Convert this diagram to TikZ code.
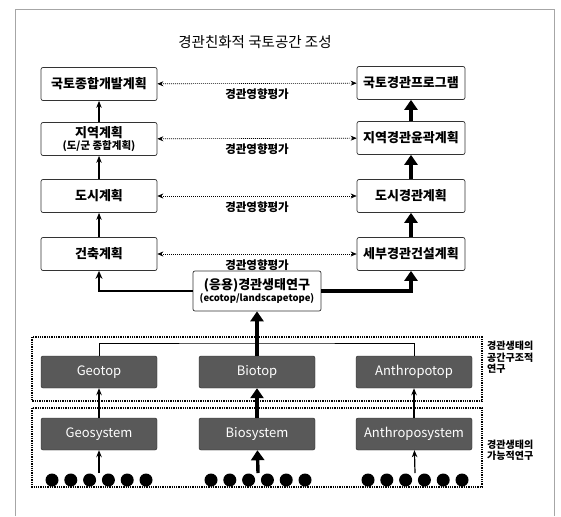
\documentclass[tikz,border=0pt]{standalone}
\usepackage{fontspec}
\setmainfont{Noto Sans CJK KR}
\usetikzlibrary{arrows.meta, positioning}

\newcommand{\fsz}[1]{\fontsize{#1}{#1}\selectfont}

\begin{document}
\begin{tikzpicture}[
    x=1pt, y=-1pt,
    planbox/.style={draw=black!80, line width=0.7pt, rounded corners=2pt, fill=white,
      minimum height=33pt, inner sep=1pt, align=center, font=\fsz{13}\bfseries},
    lplan/.style={planbox, minimum width=116pt},
    rplan/.style={planbox, minimum width=108pt},
    topbox/.style={draw=black!85, fill=black!65, text=white, rounded corners=2pt,
      minimum width=116pt, minimum height=32pt, inner sep=1pt, font=\fsz{13}},
    ball/.style={circle, fill=black, minimum size=13pt, inner sep=0pt},
    eia/.style={{Stealth[length=6pt,width=5pt]}-{Stealth[length=6pt,width=5pt]},
      dash pattern=on 1pt off 1pt, line width=0.6pt},
    lbl/.style={below=2pt, midway, font=\fsz{11.5}\bfseries},
    thinup/.style={-{Stealth[length=7pt,width=5.5pt]}, line width=1.2pt},
    heavy/.style={-{Triangle[length=10pt,width=13pt]}, line width=3.4pt},
    frame/.style={dash pattern=on 1.3pt off 1pt, line width=1.3pt},
    side/.style={align=left, anchor=north west, inner sep=0pt, font=\fsz{10}\bfseries}
  ]
  \useasboundingbox (0,0) rectangle (561,516);
  % outer frame
  \draw[gray!70, line width=0.8pt] (15,516) -- (15,9) -- (554,9) -- (554,516);
  \node[font=\fsz{14.5}] (title) at (255,42) {경관친화적 국토공간 조성};

  % planning levels
  \node[lplan] (natl) at (99,84) {국토종합개발계획};
  \node[lplan] (regn) at (99,139)
    {지역계획\\[-1pt]{\fsz{10.5}(도/군 종합계획)}};
  \node[lplan] (city) at (99,196) {도시계획};
  \node[lplan] (bldg) at (99,254) {건축계획};

  \node[rplan] (natlscape) at (411,83) {국토경관프로그램};
  \node[rplan] (regnscape) at (411,138) {지역경관윤곽계획};
  \node[rplan] (cityscape) at (411,196) {도시경관계획};
  \node[rplan] (detlscape) at (411,254) {세부경관건설계획};

  \foreach \l/\r in {natl/natlscape, regn/regnscape, city/cityscape, bldg/detlscape}
    \draw[eia] (\l) -- (\r) node[lbl] {경관영향평가};

  \draw[thinup] (regn) -- (natl);
  \draw[thinup] (city) -- (regn);
  \draw[thinup] (bldg) -- (city);
  \draw[heavy] (regnscape) -- (natlscape);
  \draw[heavy] (cityscape) -- (regnscape);
  \draw[heavy] (detlscape) -- (cityscape);

  % landscape ecology
  \node[planbox, minimum width=128pt, minimum height=40pt] (eco) at (257,291)
    {(응용)경관생태연구\\[-1pt]{\fsz{9.5}(ecotop/landscapetope)}};
  \draw[line width=1.8pt, -{Stealth[length=8pt,width=7pt]}] (eco.west) -| (bldg.south);
  \draw[heavy] (eco.east) -| (detlscape.south);

  % research frames
  \draw[frame] (32,337) rectangle (482,401);
  \draw[frame] (32,408) rectangle (482,487);
  \node[side] (structlbl) at (487,341) {경관생태의\\[2pt]공간구조적\\[1pt]연구};
  \node[side] (funclbl) at (487,440) {경관생태의\\[1pt]가능적연구};

  \node[topbox] (geotop) at (99,372) {Geotop};
  \node[topbox] (biotop) at (257,372) {Biotop};
  \node[topbox] (anthtop) at (414,372) {Anthropotop};
  \node[topbox] (geosys) at (99,434) {Geosystem};
  \node[topbox] (biosys) at (257,434) {Biosystem};
  \node[topbox] (anthsys) at (414,434) {Anthroposystem};

  \coordinate (join) at (257,343);
  \draw[line width=1pt] (geotop.north) |- (join) -| (anthtop.north);
  \draw[heavy] (biotop.north) -- (eco.south);

  \draw[thinup] (geosys) -- (geotop);
  \draw[heavy] (biosys) -- (biotop);
  \draw[thinup] (anthsys) -- (anthtop);

  % elements
  \foreach \grp/\cx in {geo/99, bio/258, anth/415} {
    \foreach \i in {0,...,5}
      \node[ball] (\grp\i) at ({\cx-47+\i*18.8},480) {};
    \coordinate (\grp dots) at (\cx,473);
  }
  \draw[thinup] (geodots) -- (geosys);
  \draw[heavy] (biodots) -- (biosys);
  \draw[thinup] (anthdots) -- (anthsys);
\end{tikzpicture}
\end{document}
